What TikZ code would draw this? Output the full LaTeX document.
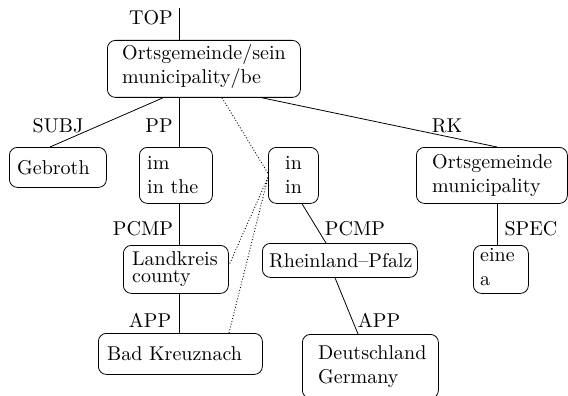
\documentclass[tikz,border=0pt]{standalone}
\usepackage{fontspec}
\IfFontExistsTF{lmroman10-regular.otf}{\setmainfont{lmroman10-regular.otf}}{}
\usetikzlibrary{calc}
\tikzset{
  box/.style={draw, rounded corners=8pt, line width=0.8pt, anchor=north west, inner sep=0pt},
  txt/.style={anchor=west, align=left, inner sep=0pt, font=\rmfamily\fontsize{20}{24}\selectfont},
  lbl/.style={anchor=base, inner sep=0pt, font=\rmfamily\fontsize{20}{24}\selectfont},
  edge/.style={line width=0.8pt},
  dep/.style={line width=0.9pt, dotted}
}
\begin{document}
\begin{tikzpicture}[x=1pt,y=-1pt]
\clip (0,0) rectangle (568,396);
\useasboundingbox (0,0) rectangle (568,396);
% boxes
\node[box, minimum width=193pt, minimum height=57pt] (top) at (107,40) {};
\node[txt] (topT) at ($(top.west)+(15,-2)$) {Ortsgemeinde/sein\\municipality/be};
\node[box, minimum width=97pt, minimum height=40pt] (geb) at (9,147) {};
\node[txt] (gebT) at ($(geb.west)+(8,0)$) {Gebroth};
\node[box, minimum width=73pt, minimum height=56pt] (im) at (139,147) {};
\node[txt] (imT) at ($(im.west)+(8,0)$) {im\\in the};
\node[box, minimum width=50pt, minimum height=56pt] (inn) at (268,147) {};
\node[txt] (innT) at ($(inn.west)+(17,0)$) {in\\in};
\node[box, minimum width=151pt, minimum height=56pt] (ort) at (416,147) {};
\node[txt] (ortT) at ($(ort.west)+(16,0)$) {Ortsgemeinde\\municipality};
\node[box, minimum width=105pt, minimum height=48pt] (land) at (123,245) {};
\node[txt, font=\rmfamily\fontsize{20}{17}\selectfont] (landT) at ($(land.west)+(9,0)$) {Landkreis\\county};
\node[box, minimum width=155pt, minimum height=34pt] (rhein) at (262,243) {};
\node[txt] (rheinT) at ($(rhein.west)+(7,0)$) {Rheinland--Pfalz};
\node[box, minimum width=55pt, minimum height=48pt] (eine) at (473,245) {};
\node[txt] (eineT) at ($(eine.west)+(7,-2)$) {eine\\a};
\node[box, minimum width=164pt, minimum height=41pt] (bad) at (98,333) {};
\node[txt] (badT) at ($(bad.west)+(9,0)$) {Bad Kreuznach};
\node[box, minimum width=136pt, minimum height=64pt] (deut) at (302,334) {};
\node[txt] (deutT) at ($(deut.west)+(16,0)$) {Deutschland\\Germany};
% root
\coordinate (root) at (179,8);
\draw[edge] (root) -- ($(top.north west)+(72,0)$);
\node[lbl] (lTOP) at (151,25) {TOP};
% edges
\draw[edge] ($(top.south west)+(56,0)$) -- ($(geb.north west)+(41,0)$);
\draw[edge] ($(top.south west)+(72,0)$) -- ($(im.north west)+(40,0)$);
\draw[edge] ($(top.south west)+(155,0)$) -- ($(ort.north west)+(81,0)$);
\draw[edge] ($(im.south west)+(40,0)$) -- ($(land.north west)+(56,0)$);
\draw[edge] ($(land.south west)+(56,0)$) -- ($(bad.north west)+(81,0)$);
\draw[edge] ($(inn.south west)+(34,0)$) -- ($(rhein.north west)+(64,0)$);
\draw[edge] ($(rhein.south west)+(73,0)$) -- ($(deut.north west)+(56,0)$);
\draw[edge] ($(ort.south west)+(81,0)$) -- ($(eine.north west)+(24,0)$);
% dotted
\draw[dep] ($(top.south west)+(115,0)$) -- ($(inn.west)+(0,-2)$);
\draw[dep] ($(land.east)+(1,-6)$) -- ($(inn.west)+(0,2)$);
\draw[dep] ($(bad.north west)+(131,0)$) -- ($(inn.west)+(0,2)$);
% labels
\node[lbl] (lSUBJ) at (58,132) {SUBJ};
\node[lbl] (lPP) at (159,132) {PP};
\node[lbl] (lRK) at (447,132) {RK};
\node[lbl] (lPCMP1) at (143,235) {PCMP};
\node[lbl] (lPCMP2) at (355,235) {PCMP};
\node[lbl] (lSPEC) at (531,235) {SPEC};
\node[lbl] (lAPP1) at (150,327) {APP};
\node[lbl] (lAPP2) at (379,327) {APP};
\end{tikzpicture}
\end{document}
